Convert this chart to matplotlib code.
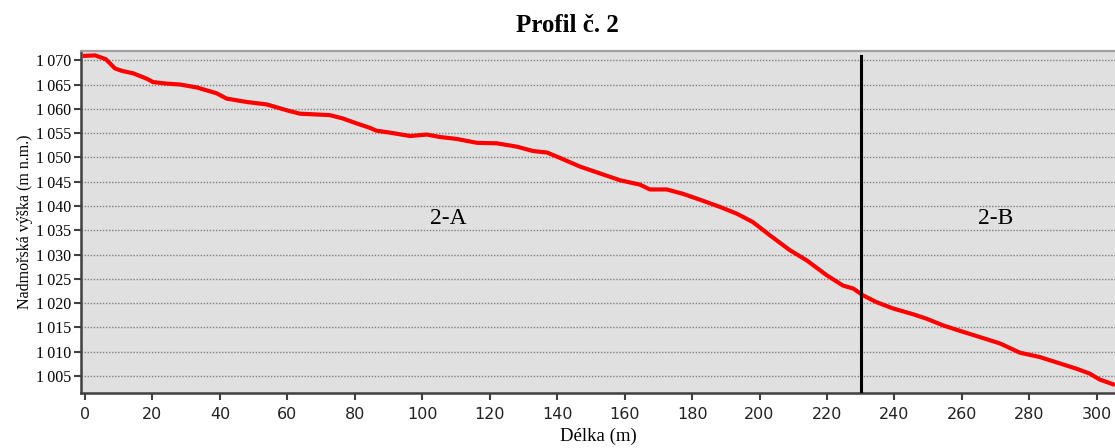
import matplotlib
matplotlib.use("Agg")
import matplotlib.pyplot as plt
from matplotlib.ticker import FuncFormatter, MultipleLocator

# Profile data (distance in m, elevation in m a.s.l.)
distance = [
    0, 3, 6.2, 8.9, 11, 14.3, 18.3, 20.2, 24, 28.2, 33.1, 36.1, 39, 42, 48,
    53.9, 59.8, 63.7, 72.6, 76.5, 80.5, 84.4, 86.4, 90.4, 96.4, 101.4, 105.2,
    110.2, 116.2, 122.1, 128.1, 132.9, 137, 140.8, 146.8, 152.7, 158.6, 164.5,
    167.5, 172.5, 177.3, 182.3, 188.3, 193.3, 198, 203, 209, 214, 220, 224.8,
    227.8, 230.7, 234.7, 239.6, 245.6, 249.5, 254.5, 259.4, 265.4, 271.3,
    277.2, 283.1, 289, 294, 297.9, 300.8, 304.8,
]
elevation = [
    1070.9, 1071.0, 1070.2, 1068.3, 1067.8, 1067.3, 1066.2, 1065.5, 1065.2,
    1065.0, 1064.4, 1063.8, 1063.2, 1062.1, 1061.4, 1060.9, 1059.7, 1059.0,
    1058.7, 1058.0, 1057.0, 1056.1, 1055.5, 1055.1, 1054.4, 1054.7, 1054.2,
    1053.8, 1053.0, 1052.9, 1052.2, 1051.3, 1051.0, 1049.9, 1048.1, 1046.7,
    1045.3, 1044.4, 1043.4, 1043.4, 1042.5, 1041.3, 1039.8, 1038.4, 1036.7,
    1034.0, 1030.9, 1028.8, 1025.7, 1023.6, 1023.0, 1021.6, 1020.2, 1018.9,
    1017.7, 1016.8, 1015.4, 1014.3, 1013.0, 1011.7, 1009.8, 1008.9, 1007.6,
    1006.5, 1005.5, 1004.3, 1003.3,
]

# Section boundary and section labels
boundary = 230
section_names = ["2-A", "2-B"]
section_x = [107.6, 270]
section_y = 1037.5

SERIF = "Liberation Serif"


def thousands(v, pos):
    v = int(round(v))
    return f"{v // 1000}\u2009{v % 1000:03d}"


fig = plt.figure(figsize=(11.15, 4.48), dpi=100)
ax = fig.add_axes([81 / 1115, 1 - 393 / 448, 1 - 81 / 1115, (393 - 51) / 448])
ax.set_facecolor("#e0e0e0")

# Profile line and boundary
ax.plot(distance, elevation, color="#ff0000", lw=3.0, zorder=3)
ax.axvline(boundary, ymax=0.985, color="black", lw=2.2, zorder=4)

for name, x in zip(section_names, section_x):
    ax.text(x, section_y, name, ha="center", va="center", fontsize=17,
            family=SERIF)

ax.set_xlim(-1.2, 305.4)
ax.set_ylim(1001.5, 1071.9)
ax.xaxis.set_major_locator(MultipleLocator(20))
ax.yaxis.set_major_locator(MultipleLocator(5))
ax.yaxis.set_major_formatter(FuncFormatter(thousands))

ax.grid(axis="y", color="#808080", ls=(0, (1, 1.2)), lw=1.0)
ax.set_axisbelow(True)

# Spines
for side in ["left", "bottom"]:
    ax.spines[side].set_color("#404040")
    ax.spines[side].set_linewidth(1.8)
ax.spines["top"].set_color("#a0a0a0")
ax.spines["top"].set_linewidth(1.6)
ax.spines["right"].set_visible(False)

ax.tick_params(axis="both", direction="out", length=5, width=1.5,
               color="#404040")
ax.tick_params(axis="x", labelsize=11.5, pad=5, labelcolor="#222222")
ax.tick_params(axis="y", labelsize=11.5, pad=2)
for lbl in ax.get_yticklabels():
    lbl.set_family(SERIF)

ax.set_xlabel("Délka (m)", fontsize=13.5, family=SERIF, labelpad=4)
ax.set_ylabel("Nadmořská výška (m n.m.)", fontsize=11.5, family=SERIF,
              labelpad=2)
fig.text(567 / 1115, 1 - 25 / 448, "Profil č. 2", ha="center", va="center",
         fontsize=18, fontweight="bold", family=SERIF)

fig.savefig("out.png", dpi=100)
